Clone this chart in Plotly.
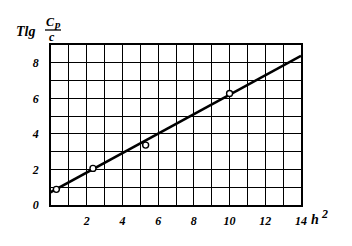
import plotly.graph_objects as go

# measured points
h2_points = [0.3, 2.35, 5.3, 10.0]
tlg_points = [0.88, 2.06, 3.37, 6.27]

# fitted straight line
h2_line = [-0.1, 14.0]
tlg_line = [0.68, 8.39]

x_ticks = [2, 4, 6, 8, 10, 12, 14]
x_labels = [str(v) for v in x_ticks]
y_ticks = [0, 2, 4, 6, 8]
y_labels = [str(v) for v in y_ticks]

FONT = "Liberation Sans Narrow"

fig = go.Figure()
fig.add_trace(go.Scatter(x=h2_line, y=tlg_line, mode="lines",
                         line=dict(color="black", width=2.6), cliponaxis=False,
                         hoverinfo="skip"))
fig.add_trace(go.Scatter(x=h2_points, y=tlg_points, mode="markers",
                         marker=dict(symbol="circle", size=6, color="white",
                                     line=dict(color="black", width=1.4)),
                         cliponaxis=False))

tickfont = dict(family=FONT, size=12, color="black", weight="bold", style="italic")
axis_common = dict(showgrid=True, gridcolor="black", gridwidth=1.4,
                   showline=True, linecolor="black", linewidth=1.6, mirror=True,
                   zeroline=False, ticks="", fixedrange=True, tickfont=tickfont,
                   minor=dict(dtick=1, tick0=0, showgrid=True, gridcolor="black",
                              gridwidth=1.4, ticks=""))

fig.update_layout(
    width=352, height=246,
    margin=dict(l=51, r=51, t=45, b=41),
    paper_bgcolor="white", plot_bgcolor="white",
    showlegend=False,
    xaxis=dict(range=[0, 14], tickmode="array", tickvals=x_ticks, ticktext=x_labels,
               ticklabelstandoff=4, **axis_common),
    yaxis=dict(range=[0, 9], tickmode="array", tickvals=y_ticks, ticktext=y_labels,
               ticklabelstandoff=8, **axis_common),
)

def px_ann(x, y, text, size=13):
    fig.add_annotation(x=(x - 51) / 250, y=(246 - y - 41) / 160, xref="paper", yref="paper",
                       text=text, showarrow=False,
                       font=dict(family=FONT, size=size, color="black", weight="bold", style="italic"),
                       xanchor="center", yanchor="middle")

px_ann(315, 219, "h", 14)
px_ann(324, 214, "2", 12)
px_ann(25, 32, "Tlg", 14)
px_ann(50, 22, "C", 12)
px_ann(57, 24, "p", 11)
px_ann(52, 37, "c", 12)

fig.add_shape(type="line", xref="paper", yref="paper",
              x0=(45 - 51) / 250, x1=(61 - 51) / 250,
              y0=(246 - 30 - 41) / 160, y1=(246 - 30 - 41) / 160,
              line=dict(color="black", width=1.3))

fig.write_html("out.html")
